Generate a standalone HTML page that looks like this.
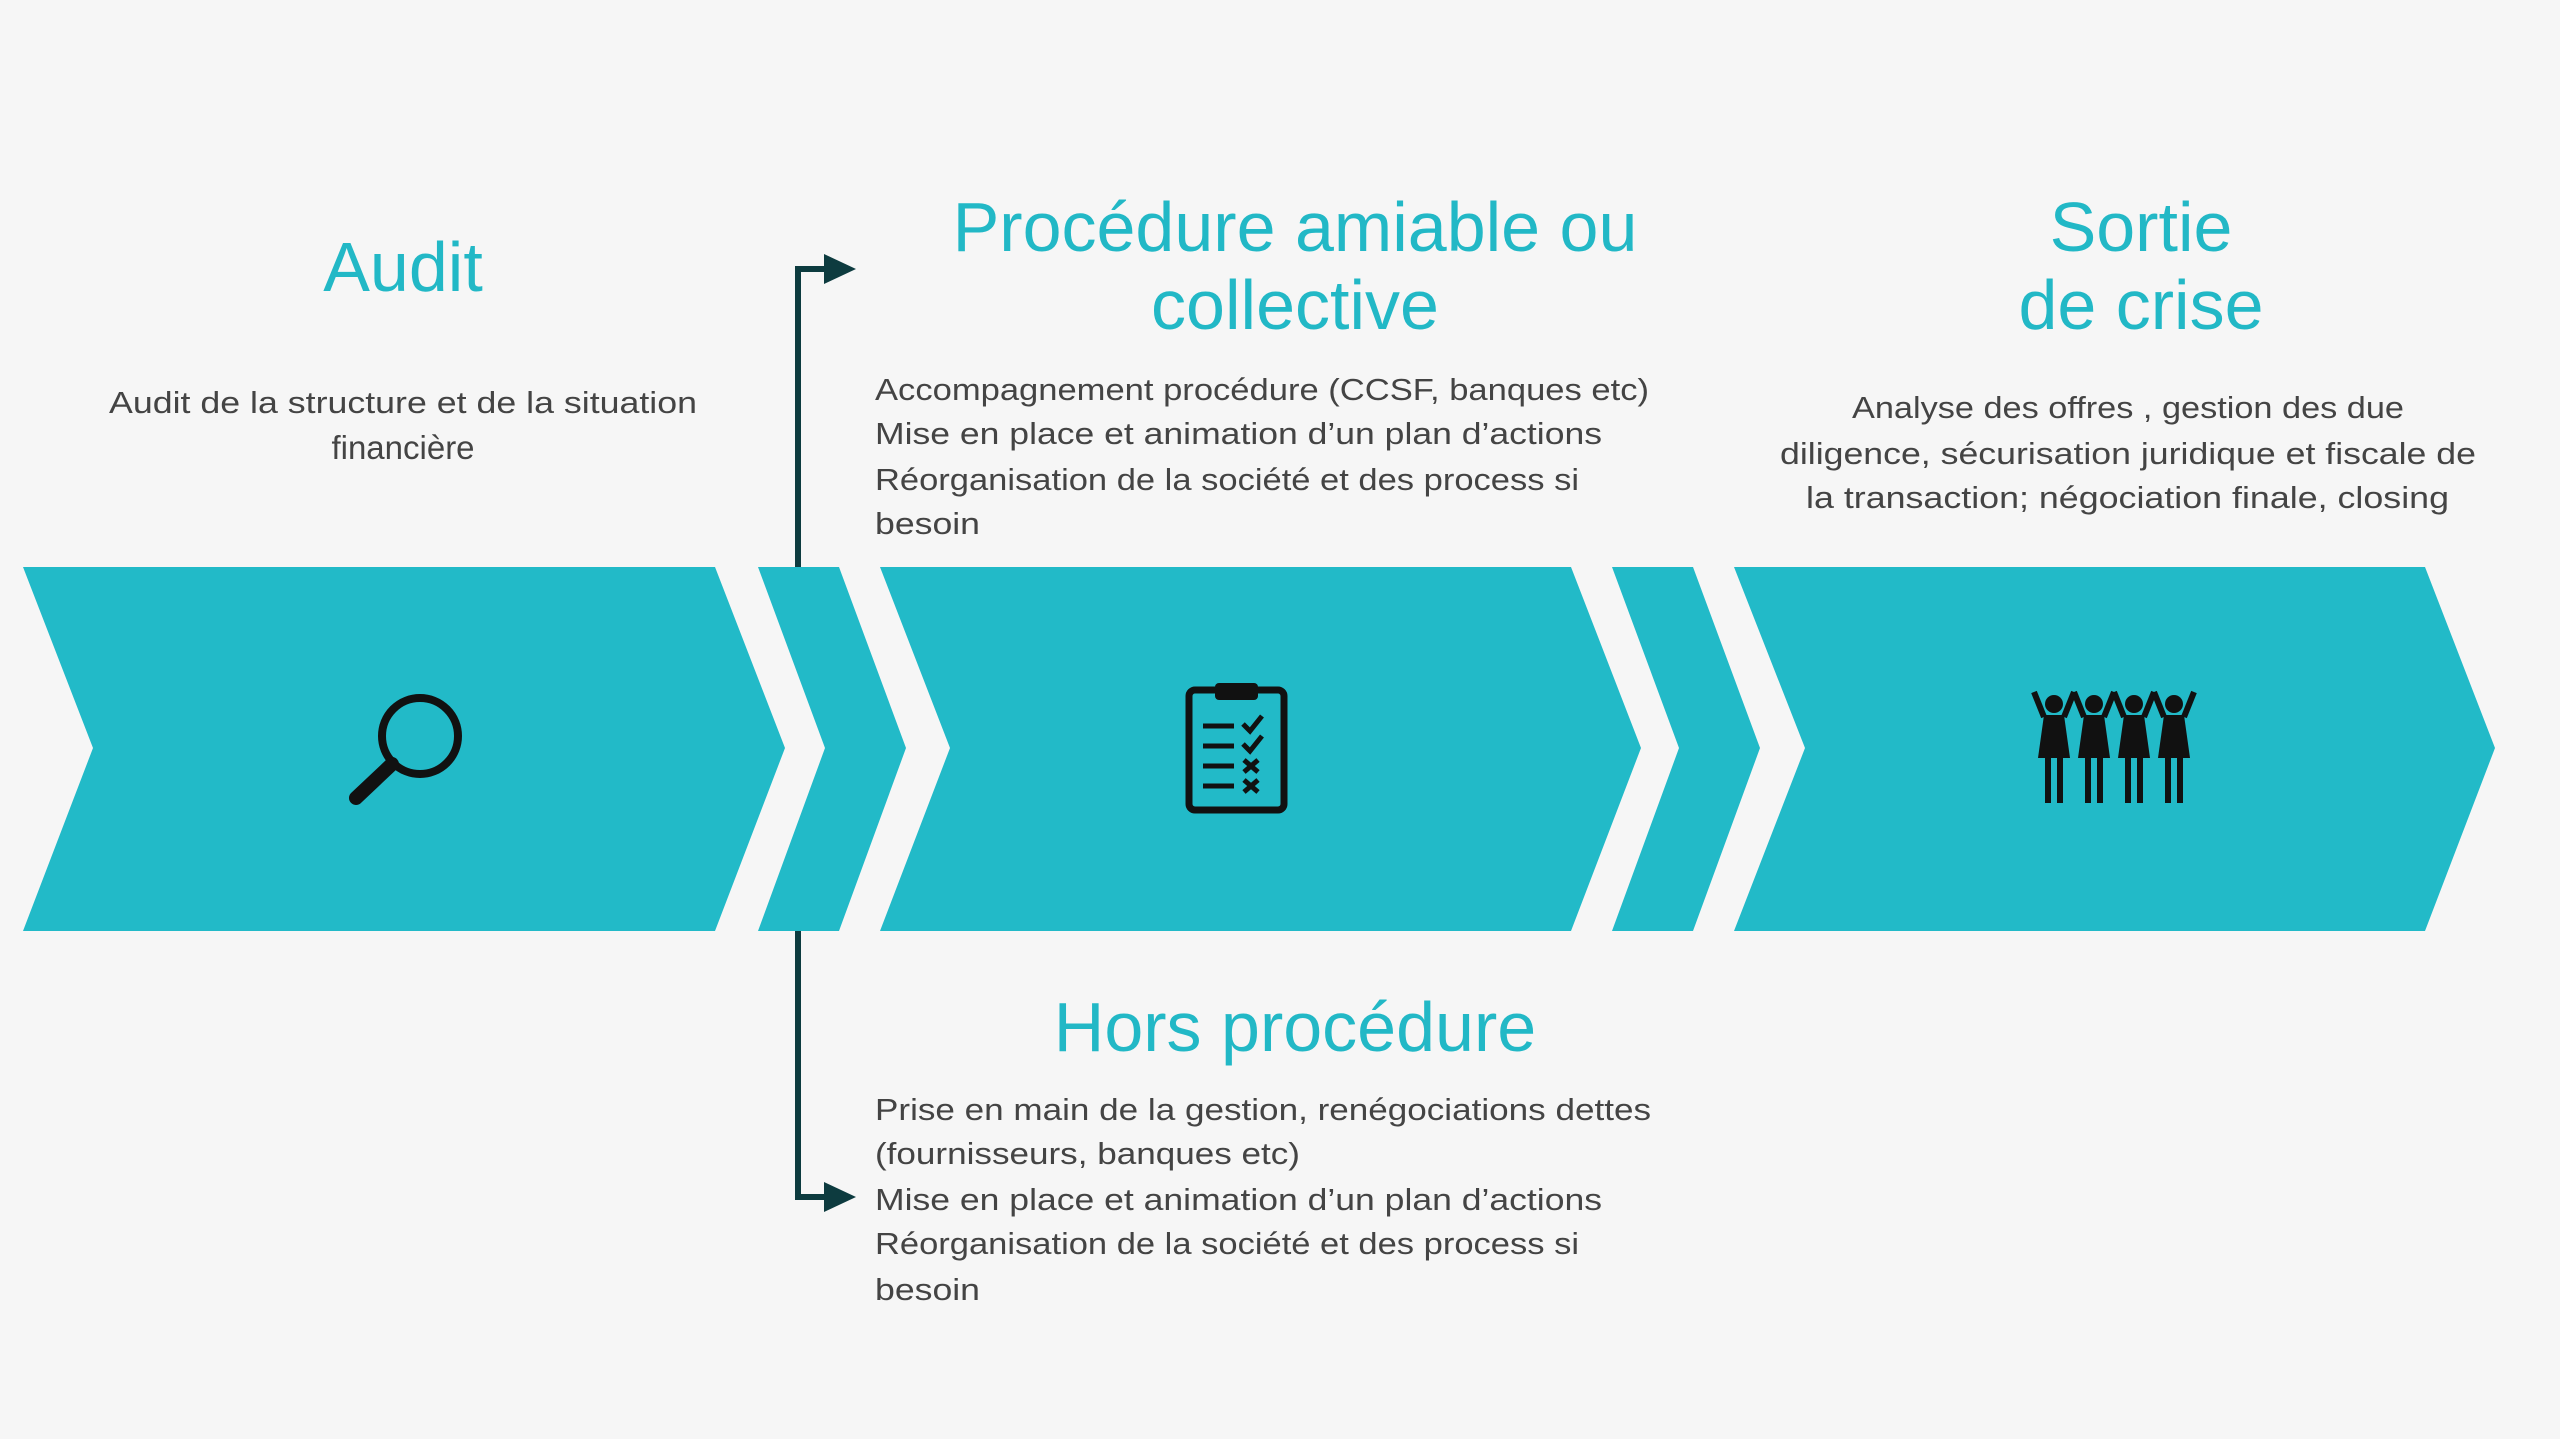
<!DOCTYPE html>
<html><head><meta charset="utf-8"><style>
html,body{margin:0;padding:0;background:#f6f6f6;}
svg{display:block}
text{font-family:"Liberation Sans",sans-serif}
.t{fill:#22b8c6;font-size:70px}
.b{fill:#444;font-size:31px}
</style></head><body>
<svg width="2560" height="1439" viewBox="0 0 2560 1439" xmlns="http://www.w3.org/2000/svg">
<rect width="2560" height="1439" fill="#f6f6f6"/>
<g fill="#22bac8">
<polygon points="23,567 715,567 785,748 715,931 23,931 93,748"/>
<polygon points="758,567 839,567 906,748 839,931 758,931 825,748"/>
<polygon points="880,567 1571,567 1641,748 1571,931 880,931 950,748"/>
<polygon points="1612,567 1693,567 1760,748 1693,931 1612,931 1679,748"/>
<polygon points="1734,567 2425,567 2495,748 2425,931 1734,931 1805,748"/>
</g>
<g stroke="#0d3b3f" stroke-width="6" fill="none">
<polyline points="798,567 798,269 830,269"/>
<polyline points="798,931 798,1197 830,1197"/>
</g>
<g fill="#0d3b3f">
<polygon points="824,254 856,269 824,284"/>
<polygon points="824,1182 856,1197 824,1212"/>
</g>
<circle cx="420" cy="736" r="38" fill="none" stroke="#111" stroke-width="8"/>
<line x1="392" y1="764" x2="356" y2="798" stroke="#111" stroke-width="14" stroke-linecap="round"/>
<rect x="1189" y="690" width="95" height="120" rx="6" fill="none" stroke="#111" stroke-width="7"/>
<rect x="1215" y="683" width="43" height="17" rx="4" fill="#111"/>
<g stroke="#111" stroke-width="5">
<line x1="1203" y1="726" x2="1234" y2="726"/><line x1="1203" y1="746" x2="1234" y2="746"/>
<line x1="1203" y1="766" x2="1234" y2="766"/><line x1="1203" y1="786" x2="1234" y2="786"/>
<polyline points="1243,724 1250,731 1262,716" fill="none"/>
<polyline points="1243,744 1250,751 1262,736" fill="none"/>
<line x1="1244" y1="760" x2="1258" y2="772"/><line x1="1258" y1="760" x2="1244" y2="772"/>
<line x1="1244" y1="780" x2="1258" y2="792"/><line x1="1258" y1="780" x2="1244" y2="792"/>
</g>
<g fill="#111" stroke="#111">
<g id="p"><circle cx="2054" cy="704" r="9" stroke="none"/>
<polygon points="2044,715 2064,715 2070,758 2038,758" stroke="none"/>
<rect x="2045" y="755" width="6" height="48" stroke="none"/><rect x="2057" y="755" width="6" height="48" stroke="none"/>
<line x1="2044" y1="717" x2="2034" y2="692" stroke-width="6"/><line x1="2064" y1="717" x2="2074" y2="692" stroke-width="6"/></g>
<use href="#p" x="40"/><use href="#p" x="80"/><use href="#p" x="120"/>
</g>
<text class="t" x="403" y="291" text-anchor="middle">Audit</text>
<text class="t" x="1295" y="251" text-anchor="middle">Procédure amiable ou</text>
<text class="t" x="1295" y="329" text-anchor="middle">collective</text>
<text class="t" x="2141" y="251" text-anchor="middle">Sortie</text>
<text class="t" x="2141" y="329" text-anchor="middle">de crise</text>
<text class="t" x="1295" y="1051" text-anchor="middle">Hors procédure</text>
<g class="b">
<text x="109" y="413" textLength="588" lengthAdjust="spacingAndGlyphs">Audit de la structure et de la situation</text>
<text x="403" y="459" text-anchor="middle" style="font-size:33px">financière</text>
<text x="875" y="400" textLength="774" lengthAdjust="spacingAndGlyphs">Accompagnement procédure (CCSF, banques etc)</text>
<text x="875" y="444" textLength="727" lengthAdjust="spacingAndGlyphs">Mise en place et animation d’un plan d’actions</text>
<text x="875" y="490" textLength="704" lengthAdjust="spacingAndGlyphs">Réorganisation de la société et des process si</text>
<text x="875" y="534" textLength="105" lengthAdjust="spacingAndGlyphs">besoin</text>
<text x="1852" y="418" textLength="552" lengthAdjust="spacingAndGlyphs">Analyse des offres , gestion des due</text>
<text x="1780" y="464" textLength="696" lengthAdjust="spacingAndGlyphs">diligence, sécurisation juridique et fiscale de</text>
<text x="1806" y="508" textLength="643" lengthAdjust="spacingAndGlyphs">la transaction; négociation finale, closing</text>
<text x="875" y="1120" textLength="776" lengthAdjust="spacingAndGlyphs">Prise en main de la gestion, renégociations dettes</text>
<text x="875" y="1164" textLength="425" lengthAdjust="spacingAndGlyphs">(fournisseurs, banques etc)</text>
<text x="875" y="1210" textLength="727" lengthAdjust="spacingAndGlyphs">Mise en place et animation d’un plan d’actions</text>
<text x="875" y="1254" textLength="704" lengthAdjust="spacingAndGlyphs">Réorganisation de la société et des process si</text>
<text x="875" y="1300" textLength="105" lengthAdjust="spacingAndGlyphs">besoin</text>
</g>
</svg>
</body></html>
